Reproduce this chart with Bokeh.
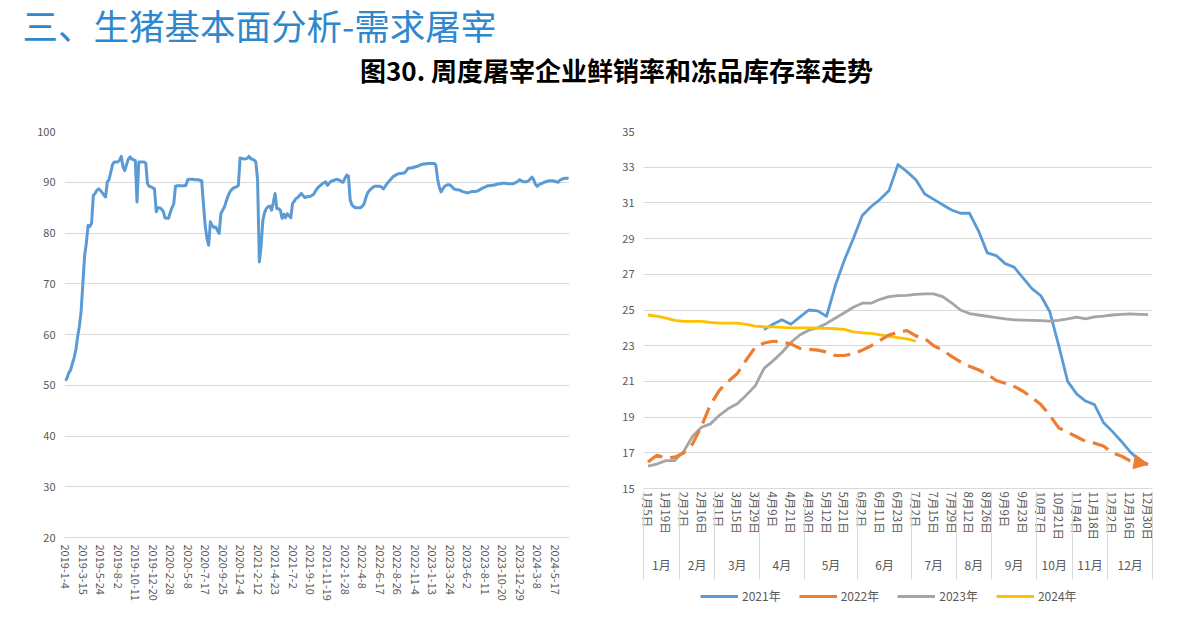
import math
from bokeh.plotting import figure
from bokeh.models import (Range1d, FixedTicker, LinearAxis, Legend, LegendItem,
                          Arrow, NormalHead)
from bokeh.layouts import column, row
from bokeh.embed import file_html
from bokeh.resources import INLINE
from bokeh.core.properties import value

FONT = "Noto Sans CJK SC"
TXT = "#595959"
GRID = "#d9d9d9"
BLUE = "#5b9bd5"
ORANGE = "#ed7d31"
GRAY = "#a5a5a5"
YELLOW = "#ffc000"

heading = "三、生猪基本面分析-需求屠宰"
chart_title = "图30. 周度屠宰企业鲜销率和冻品库存率走势"

# ---------------- left chart: weekly series 2019-1-4 .. 2024-7 ----------------
left_values = [
    50.9, 51.5, 52.5, 53.0, 54.3, 55.4, 57.0, 59.5, 61.6, 64.5,
    70.0, 75.5, 78.0, 81.5, 81.3, 81.9, 87.4, 87.8, 88.4, 88.7,
    88.4, 88.0, 87.5, 87.1, 90.1, 90.5, 92.0, 93.5, 94.0, 94.0,
    94.0, 94.3, 95.1, 93.0, 92.3, 93.5, 94.5, 95.0, 94.6, 94.4,
    94.3, 86.1, 94.0, 94.0, 94.0, 94.0, 93.8, 89.7, 89.2, 89.1,
    88.9, 88.7, 84.2, 85.0, 85.0, 84.7, 84.3, 83.0, 82.9, 82.9,
    84.0, 85.0, 85.7, 89.2, 89.3, 89.3, 89.3, 89.3, 89.3, 89.4,
    90.5, 90.6, 90.6, 90.6, 90.5, 90.5, 90.5, 90.4, 90.3, 85.8,
    81.5, 79.0, 77.6, 82.2, 81.5, 81.1, 81.2, 80.5, 79.9, 83.8,
    84.5, 85.1, 86.2, 87.2, 88.0, 88.5, 88.8, 89.0, 89.1, 89.4,
    94.8, 94.7, 94.6, 94.6, 94.7, 95.1, 94.7, 94.5, 94.4, 94.0,
    90.4, 74.3, 77.3, 82.5, 84.0, 84.8, 85.2, 85.3, 84.5, 86.0,
    87.8, 84.8, 84.8, 84.5, 82.9, 83.7, 83.0, 83.8, 83.4, 83.0,
    85.8, 86.3, 86.8, 87.0, 87.4, 87.8, 87.4, 87.0, 87.1, 87.2,
    87.2, 87.4, 87.6, 88.2, 88.7, 89.1, 89.4, 89.7, 89.9, 90.1,
    89.4, 89.8, 90.2, 90.3, 90.4, 90.6, 90.5, 90.4, 90.1, 90.0,
    90.8, 91.4, 91.2, 86.5, 85.5, 85.2, 85.0, 85.0, 85.0, 85.0,
    85.3, 85.8, 87.0, 87.9, 88.4, 88.7, 89.0, 89.2, 89.2, 89.2,
    89.2, 89.0, 88.7, 89.2, 89.7, 90.1, 90.5, 90.9, 91.2, 91.4,
    91.6, 91.7, 91.7, 91.8, 91.8, 92.2, 92.7, 92.8, 92.8, 92.9,
    93.0, 93.1, 93.2, 93.4, 93.5, 93.6, 93.6, 93.7, 93.7, 93.7,
    93.7, 93.7, 93.4, 90.7, 89.0, 88.1, 88.7, 89.2, 89.4, 89.5,
    89.5, 89.2, 88.8, 88.6, 88.5, 88.5, 88.4, 88.2, 88.1, 88.0,
    87.9, 88.0, 88.1, 88.2, 88.2, 88.2, 88.3, 88.5, 88.7, 88.9,
    89.0, 89.2, 89.3, 89.3, 89.4, 89.4, 89.5, 89.6, 89.7, 89.7,
    89.8, 89.8, 89.8, 89.7, 89.7, 89.7, 89.7, 89.8, 90.0, 90.2,
    90.5, 90.3, 90.1, 90.1, 90.1, 90.3, 90.6, 91.0, 90.5, 89.6,
    89.2, 89.5, 89.7, 89.8, 90.0, 90.1, 90.2, 90.3, 90.3, 90.3,
    90.2, 90.1, 90.0, 90.4, 90.6, 90.7, 90.8, 90.8, 90.8,
]
left_tick_labels = [
    "2019-1-4", "2019-3-15", "2019-5-24", "2019-8-2", "2019-10-11", "2019-12-20",
    "2020-2-28", "2020-5-8", "2020-7-17", "2020-9-25", "2020-12-4", "2021-2-12",
    "2021-4-23", "2021-7-2", "2021-9-10", "2021-11-19", "2022-1-28", "2022-4-8",
    "2022-6-17", "2022-8-26", "2022-11-4", "2023-1-13", "2023-3-24", "2023-6-2",
    "2023-8-11", "2023-10-20", "2023-12-29", "2024-3-8", "2024-5-17",
]
left_label_step = 10
left_yticks = [20, 30, 40, 50, 60, 70, 80, 90, 100]

# ---------------- right chart: weekly categories, grouped by month ----------------
right_dates = [
    "1月5日", "1月12日", "1月19日", "1月26日",
    "2月2日", "2月9日", "2月16日", "2月23日",
    "3月1日", "3月8日", "3月15日", "3月22日", "3月29日",
    "4月3日", "4月9日", "4月15日", "4月21日", "4月25日",
    "4月30日", "5月6日", "5月12日", "5月16日", "5月21日", "5月27日",
    "6月2日", "6月6日", "6月11日", "6月17日", "6月23日", "6月28日",
    "7月2日", "7月8日", "7月15日", "7月22日", "7月29日",
    "8月5日", "8月12日", "8月19日", "8月26日",
    "9月2日", "9月9日", "9月16日", "9月23日", "9月30日",
    "10月7日", "10月14日", "10月21日", "10月28日",
    "11月4日", "11月11日", "11月18日", "11月25日",
    "12月2日", "12月9日", "12月16日", "12月23日", "12月30日",
]
month_names = ["1月", "2月", "3月", "4月", "5月", "6月", "7月", "8月", "9月", "10月", "11月", "12月"]
month_sizes = [4, 4, 5, 5, 6, 6, 5, 4, 5, 4, 4, 5]

start_2021 = 13
y2021 = [23.9, 24.2, 24.45, 24.2, 24.6, 25.0, 24.95, 24.65, 26.4, 27.8,
         29.0, 30.3, 30.8, 31.2, 31.7, 33.15, 32.75, 32.3, 31.5, 31.2,
         30.9, 30.6, 30.42, 30.42, 29.45, 28.2, 28.05, 27.6, 27.4, 26.8,
         26.2, 25.8, 24.9, 23.0, 21.0, 20.3, 19.9, 19.7, 18.7, 18.2,
         17.65, 17.05, 16.6, 16.35]
y2022 = [16.48, 16.86, 16.7, 16.76, 16.99, 17.5, 18.5, 19.7, 20.5, 21.0,
         21.44, 22.2, 22.9, 23.15, 23.25, 23.2, 23.1, 22.85, 22.8, 22.75,
         22.65, 22.45, 22.45, 22.55, 22.75, 23.0, 23.3, 23.6, 23.75, 23.85,
         23.55, 23.4, 23.0, 22.75, 22.4, 22.1, 21.85, 21.65, 21.4, 21.05,
         20.9, 20.72, 20.45, 20.1, 19.7, 19.1, 18.4, 18.15, 17.9, 17.64,
         17.54, 17.38, 17.0, 16.82, 16.55, 16.45, 16.36]
y2023 = [16.25, 16.37, 16.56, 16.56, 17.08, 17.93, 18.43, 18.62, 19.1, 19.48,
         19.75, 20.23, 20.74, 21.73, 22.15, 22.62, 23.18, 23.6, 23.87, 24.0,
         24.25, 24.55, 24.85, 25.15, 25.38, 25.38, 25.6, 25.75, 25.8, 25.82,
         25.88, 25.9, 25.9, 25.75, 25.4, 25.0, 24.8, 24.72, 24.65, 24.57,
         24.5, 24.45, 24.43, 24.42, 24.41, 24.38, 24.42, 24.5, 24.6, 24.5,
         24.62, 24.66, 24.72, 24.76, 24.78, 24.76, 24.74]
y2024 = [24.72, 24.65, 24.55, 24.42, 24.36, 24.36, 24.36, 24.3, 24.27, 24.27,
         24.27, 24.2, 24.1, 24.06, 24.06, 24.03, 24.0, 24.0, 24.0, 23.99,
         23.97, 23.95, 23.92, 23.78, 23.72, 23.69, 23.6, 23.52, 23.45, 23.38,
         23.25]
series_labels = ["2021年", "2022年", "2023年", "2024年"]
right_yticks = [15, 17, 19, 21, 23, 25, 27, 29, 31, 33, 35]

COMMON = dict(output_backend="svg", toolbar_location=None)

# ============================ header ============================
HW, HH = 1170, 95
hdr = figure(frame_width=HW, frame_height=HH, x_range=Range1d(0, HW), y_range=Range1d(0, HH),
             x_axis_type=None, y_axis_type=None, min_border=0,
             min_border_top=8, min_border_left=8, **COMMON)
hdr.grid.visible = False
hdr.outline_line_color = None
hdr.text(x=[14], y=[HH - 16], text=[heading], text_font=value(FONT),
         text_font_size="35.5px", text_color="#2f88cc", text_baseline="middle",
         text_align="left")
hdr.text(x=[608], y=[HH - 61], text=[chart_title], text_font=value(FONT),
         text_font_size="26px", text_font_style="bold", text_color="#000000",
         text_baseline="middle", text_align="center")


def style_y(ax, standoff):
    ax.axis_line_color = None
    ax.major_tick_line_color = None
    ax.minor_tick_line_color = None
    ax.major_tick_out = 0
    ax.major_label_text_font = FONT
    ax.major_label_text_font_size = "11px"
    ax.major_label_text_color = TXT
    ax.major_label_standoff = standoff


# ============================ left chart ============================
N = len(left_values)
pl = figure(frame_width=505, frame_height=406, x_range=Range1d(-0.5, N - 0.5),
            y_range=Range1d(left_yticks[0], left_yticks[-1]),
            min_border_left=64, min_border_right=31, min_border_top=28,
            min_border_bottom=81, **COMMON)
pl.outline_line_color = None
pl.xgrid.visible = False
pl.ygrid.grid_line_color = GRID
pl.line(x=list(range(N)), y=left_values, line_color=BLUE, line_width=3,
        line_join="round")
pl.yaxis.ticker = FixedTicker(ticks=left_yticks)
style_y(pl.yaxis[0], 9)
lpos = [i * left_label_step for i in range(len(left_tick_labels))]
pl.xaxis.ticker = FixedTicker(ticks=lpos)
pl.xaxis.major_label_overrides = {p: t for p, t in zip(lpos, left_tick_labels)}
pl.xaxis.major_label_orientation = "vertical"
pl.xaxis.axis_line_color = GRID
pl.xaxis.major_tick_line_color = None
pl.xaxis.minor_tick_line_color = None
pl.xaxis.major_tick_out = 0
pl.xaxis.major_label_text_font = FONT
pl.xaxis.major_label_text_font_size = "11px"
pl.xaxis.major_label_text_color = TXT
pl.xaxis.major_label_standoff = 7

# ============================ right chart ============================
M = len(right_dates)
pr = figure(frame_width=509, frame_height=357, x_range=Range1d(-0.5, M - 0.5),
            y_range=Range1d(right_yticks[0], right_yticks[-1]),
            min_border_left=43, min_border_right=26, min_border_top=28,
            min_border_bottom=93, **COMMON)
pr.outline_line_color = None
pr.xgrid.visible = False
pr.ygrid.grid_line_color = GRID
pr.yaxis.ticker = FixedTicker(ticks=right_yticks)
style_y(pr.yaxis[0], 9)

pr.line(x=list(range(start_2021, start_2021 + len(y2021))), y=y2021,
        line_color=BLUE, line_width=2.8, line_join="round")
pr.line(x=list(range(len(y2023))), y=y2023, line_color=GRAY,
        line_width=2.8, line_join="round")
pr.line(x=list(range(len(y2024))), y=y2024, line_color=YELLOW,
        line_width=2.8, line_join="round")
pr.line(x=list(range(len(y2022))), y=y2022, line_color=ORANGE,
        line_width=3.2, line_dash="17 8", line_join="round")
n22 = len(y2022)
pr.add_layout(Arrow(end=NormalHead(size=14, fill_color=ORANGE, line_color=ORANGE),
                    x_start=n22 - 2, y_start=y2022[-2], x_end=n22 - 1, y_end=y2022[-1],
                    line_color=ORANGE, line_width=3.2))

# date labels (every second week)
dpos = list(range(0, M, 2))
pr.xaxis.ticker = FixedTicker(ticks=dpos)
pr.xaxis.major_label_overrides = {p: right_dates[p] for p in dpos}
pr.xaxis.major_label_orientation = "vertical"
pr.xaxis.axis_line_color = GRID
pr.xaxis.major_tick_line_color = None
pr.xaxis.minor_tick_line_color = None
pr.xaxis.major_tick_out = 0
pr.xaxis.major_label_text_font = FONT
pr.xaxis.major_label_text_font_size = "11.5px"
pr.xaxis.major_label_text_color = TXT
pr.xaxis.major_label_standoff = 3

# month group labels with month separators (minor ticks)
bounds = [-0.5]
for s in month_sizes:
    bounds.append(bounds[-1] + s)
centers = [(bounds[i] + bounds[i + 1]) / 2 for i in range(len(month_sizes))]
ax_month = LinearAxis(ticker=FixedTicker(ticks=centers, minor_ticks=bounds),
                      major_label_overrides={c: m for c, m in zip(centers, month_names)},
                      axis_line_color=None, major_tick_line_color=None,
                      major_tick_out=0, major_tick_in=0,
                      minor_tick_line_color=GRID, minor_tick_line_width=1,
                      minor_tick_in=52, minor_tick_out=36,
                      major_label_text_font=FONT, major_label_text_font_size="12px",
                      major_label_text_color=TXT, major_label_standoff=-24)
pr.add_layout(ax_month, "below")

# ============================ legend strip under the right chart ============================
LH = 37
lf = figure(frame_width=578, frame_height=LH, x_range=Range1d(0, 1), y_range=Range1d(0, 1),
            x_axis_type=None, y_axis_type=None, min_border=0, **COMMON)
lf.grid.visible = False
lf.outline_line_color = None
nan = float("nan")
g21 = lf.line(x=[nan], y=[nan], line_color=BLUE, line_width=3)
g22 = lf.line(x=[nan], y=[nan], line_color=ORANGE, line_width=3.2)
g23 = lf.line(x=[nan], y=[nan], line_color=GRAY, line_width=3)
g24 = lf.line(x=[nan], y=[nan], line_color=YELLOW, line_width=3)
legend = Legend(items=[LegendItem(label=series_labels[0], renderers=[g21]),
                       LegendItem(label=series_labels[1], renderers=[g22]),
                       LegendItem(label=series_labels[2], renderers=[g23]),
                       LegendItem(label=series_labels[3], renderers=[g24])],
                orientation="horizontal", location=(100, 14),
                border_line_color=None, background_fill_alpha=0,
                label_text_font=FONT, label_text_font_size="12px",
                label_text_color=TXT, glyph_width=38, glyph_height=12,
                spacing=18, label_standoff=4, margin=0, padding=4)
lf.add_layout(legend)

layout = column(hdr, row(pl, column(pr, lf)))
open("out.html", "w").write(file_html(layout, INLINE))
